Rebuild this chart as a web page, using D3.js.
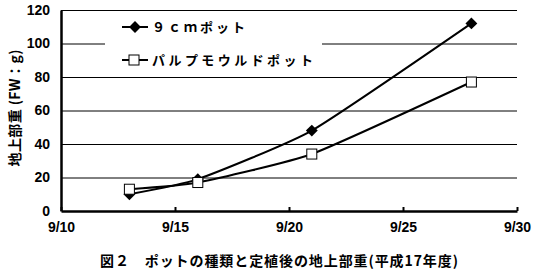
<!DOCTYPE html>
<html>
<head>
<meta charset="utf-8">
<script src="https://cdn.jsdelivr.net/npm/d3@7"></script>
<style>
  body { margin: 0; background: #fff; }
  text { font-family: "Noto Sans CJK JP", "Liberation Sans", sans-serif; font-weight: bold; fill: #000; }
</style>
</head>
<body>
<svg class="canvas"></svg>
<script>
var width = 537,
    height = 274;

// data
var dates = ["2005-09-13", "2005-09-16", "2005-09-21", "2005-09-28"];
var pot9cm = [10, 19, 48, 112];
var potPulp = [13, 17, 34, 77];
var seriesNames = ["９ｃｍポット", "パルプモウルドポット"];
var xTicks = ["2005-09-10", "2005-09-15", "2005-09-20", "2005-09-25", "2005-09-30"];
var yTicks = [0, 20, 40, 60, 80, 100, 120];
var title = "図２　ポットの種類と定植後の地上部重(平成17年度)";
var yTitle = "地上部重 (FW：g)";

var parse = d3.timeParse("%Y-%m-%d");
var numFont = "'Liberation Sans', Arial, sans-serif";

var svg = d3.select(".canvas")
    .attr("width", width)
    .attr("height", height);

var x = d3.scaleTime()
    .domain([parse(xTicks[0]), parse(xTicks[xTicks.length - 1])])
    .range([61, 517]);
var y = d3.scaleLinear()
    .domain([0, 120])
    .range([211, 10]);

// gridlines
svg.append("g")
  .selectAll("line")
  .data(yTicks.filter(d => d > 0))
  .enter().append("line")
    .attr("x1", x.range()[0])
    .attr("x2", x.range()[1])
    .attr("y1", d => y(d) + 0.5)
    .attr("y2", d => y(d) + 0.5)
    .attr("stroke", "#000")
    .attr("stroke-width", 1);

// legend background hides part of the 100 gridline
var legend = svg.append("g");
legend.append("rect")
    .attr("x", 105).attr("y", 14)
    .attr("width", 217).attr("height", 59)
    .attr("fill", "#fff");

// axes
var xAxis = d3.axisBottom(x)
    .tickValues(xTicks.map(parse))
    .tickFormat(d3.timeFormat("%-m/%-d"))
    .tickSizeInner(-4)
    .tickSizeOuter(0)
    .tickPadding(11);
var gx = svg.append("g")
    .attr("transform", "translate(0," + y(0) + ")")
    .call(xAxis);
gx.select(".domain").attr("stroke-width", 2.5);
gx.selectAll(".tick line").attr("stroke-width", 2);
gx.selectAll("text").style("font-size", "14px").style("font-family", numFont);

var yAxis = d3.axisLeft(y)
    .tickValues(yTicks)
    .tickSize(0)
    .tickPadding(11);
var gy = svg.append("g")
    .attr("transform", "translate(" + x.range()[0] + ",0)")
    .call(yAxis);
gy.select(".domain").attr("stroke-width", 2.5);
gy.selectAll("text").style("font-size", "14px").style("font-family", numFont);

// lines
var line = d3.line()
    .x(d => x(d.date))
    .y(d => y(d.value))
    .curve(d3.curveCardinal.tension(0.5));

function pts(values) {
  return dates.map((d, i) => ({ date: parse(d), value: values[i] }));
}

var diamond = d3.symbol().type(d3.symbolDiamond2).size(90);

svg.append("path")
    .datum(pts(pot9cm))
    .attr("d", line)
    .attr("fill", "none")
    .attr("stroke", "#000")
    .attr("stroke-width", 2);
svg.append("g")
  .selectAll("path")
  .data(pts(pot9cm))
  .enter().append("path")
    .attr("d", diamond)
    .attr("transform", d => "translate(" + x(d.date) + "," + y(d.value) + ")")
    .attr("fill", "#000");

svg.append("path")
    .datum(pts(potPulp))
    .attr("d", line)
    .attr("fill", "none")
    .attr("stroke", "#000")
    .attr("stroke-width", 2);
svg.append("g")
  .selectAll("rect")
  .data(pts(potPulp))
  .enter().append("rect")
    .attr("x", d => x(d.date) - 5)
    .attr("y", d => y(d.value) - 5)
    .attr("width", 10).attr("height", 10)
    .attr("fill", "#fff")
    .attr("stroke", "#000")
    .attr("stroke-width", 1);

// legend entries
var rows = [27, 60];
legend.selectAll("line")
  .data(rows)
  .enter().append("line")
    .attr("x1", 122).attr("x2", 148)
    .attr("y1", d => d).attr("y2", d => d)
    .attr("stroke", "#000").attr("stroke-width", 2);
legend.append("path")
    .attr("d", diamond)
    .attr("transform", "translate(135," + rows[0] + ")");
legend.append("rect")
    .attr("x", 129).attr("y", rows[1] - 5)
    .attr("width", 10).attr("height", 10)
    .attr("fill", "#fff").attr("stroke", "#000");
legend.selectAll("text")
  .data(seriesNames)
  .enter().append("text")
    .attr("x", 152)
    .attr("y", (d, i) => rows[i])
    .attr("dy", "0.36em")
    .attr("textLength", (d, i) => i === 0 ? 93 : 161)
    .attr("lengthAdjust", "spacing")
    .style("font-size", "13px")
    .text(d => d);

// y axis title
svg.append("text")
    .attr("transform", "translate(15,108) rotate(-90)")
    .attr("text-anchor", "middle")
    .attr("dy", "0.36em")
    .attr("textLength", 117)
    .attr("lengthAdjust", "spacing")
    .style("font-size", "14px")
    .text(yTitle);

// caption
svg.append("text")
    .attr("x", 100)
    .attr("y", 261)
    .attr("dy", "0.36em")
    .attr("textLength", 358)
    .attr("lengthAdjust", "spacing")
    .style("font-size", "14px")
    .text(title);
</script>
</body>
</html>
